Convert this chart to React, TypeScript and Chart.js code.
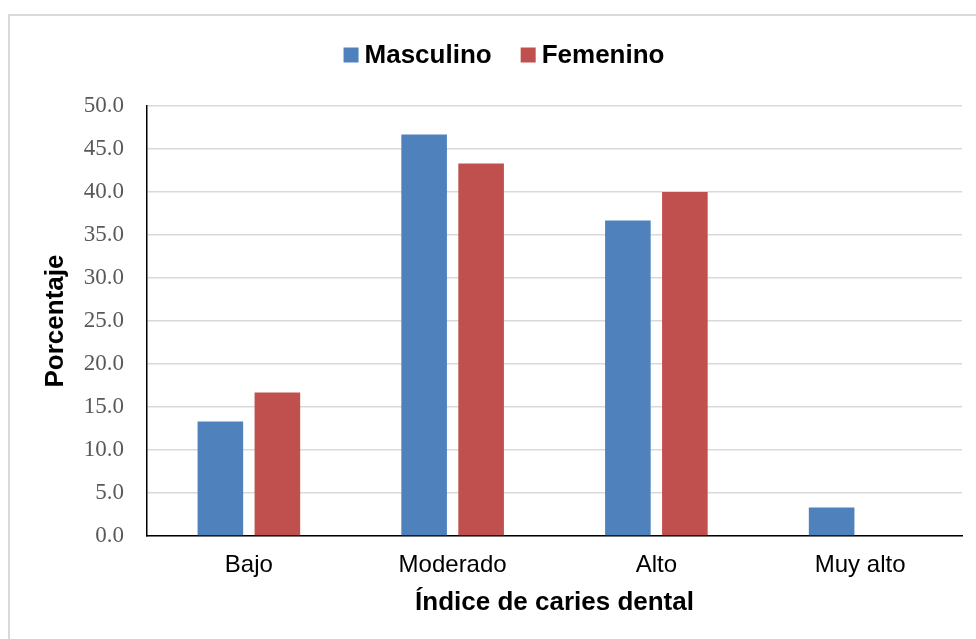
import React, { useEffect, useRef } from "react";
import { Chart, registerables } from "chart.js";

Chart.register(...registerables);

const categories = ["Bajo", "Moderado", "Alto", "Muy alto"];
const masculino = [13.3, 46.7, 36.7, 3.3];
const femenino = [16.7, 43.3, 40.0, 0];
const seriesLabels = ["Masculino", "Femenino"];
const seriesColors = ["#4F81BD", "#C0504D"];
const yTitle = "Porcentaje";
const xTitle = "Índice de caries dental";

const legendPlugin = {
  id: "customLegend",
  afterDraw(chart: any) {
    const ctx = chart.ctx;
    const font = "bold 26px 'Liberation Sans', Arial, sans-serif";
    ctx.save();
    ctx.font = font;
    const box = 15;
    const gap = 6;
    const itemGap = 29;
    const items = chart.data.datasets.map((d: any) => ({
      text: d.label,
      color: d.backgroundColor,
      w: ctx.measureText(d.label).width,
    }));
    const total = items.reduce((s: number, it: any) => s + box + gap + it.w, 0) + itemGap * (items.length - 1);
    const centerX = 504;
    const cy = 55;
    let x = centerX - total / 2;
    ctx.textBaseline = "middle";
    ctx.textAlign = "left";
    for (const it of items) {
      ctx.fillStyle = it.color;
      ctx.fillRect(x, cy - box / 2, box, box);
      x += box + gap;
      ctx.fillStyle = "#000000";
      ctx.fillText(it.text, x, cy + 1);
      x += it.w + itemGap;
    }
    ctx.restore();
  },
};

export default function App() {
  const canvasRef = useRef<HTMLCanvasElement | null>(null);

  useEffect(() => {
    if (!canvasRef.current) return;
    const chart = new Chart(canvasRef.current, {
      type: "bar",
      data: {
        labels: categories,
        datasets: [
          { label: seriesLabels[0], data: masculino, backgroundColor: seriesColors[0] },
          { label: seriesLabels[1], data: femenino, backgroundColor: seriesColors[1] },
        ],
      },
      options: {
        animation: false,
        responsive: false,
        maintainAspectRatio: false,
        layout: { padding: { top: 106, right: 14, bottom: 0, left: 0 } },
        categoryPercentage: 0.5595,
        barPercentage: 0.8,
        plugins: {
          legend: { display: false },
          tooltip: { enabled: false },
        },
        scales: {
          x: {
            grid: { display: false, drawTicks: false },
            border: { display: true, color: "#000000", width: 1.5 },
            ticks: {
              color: "#000000",
              padding: 15,
              font: { family: "'Liberation Sans', Arial, sans-serif", size: 24 },
            },
            title: {
              display: true,
              text: xTitle,
              color: "#000000",
              padding: { top: 0, bottom: 21 },
              font: { family: "'Liberation Sans', Arial, sans-serif", size: 26, weight: "bold" },
            },
            afterFit(scale: any) {
              scale.height = 103;
            },
          },
          y: {
            min: 0,
            max: 50,
            grid: { color: "#D9D9D9", lineWidth: 1.5, drawTicks: false },
            border: { display: true, color: "#000000", width: 1.5 },
            ticks: {
              stepSize: 5,
              color: "#595959",
              padding: 23,
              font: { family: "'Liberation Serif', 'Times New Roman', serif", size: 23 },
              callback: (v: any) => Number(v).toFixed(1),
            },
            title: {
              display: true,
              text: yTitle,
              color: "#000000",
              padding: { top: 40, bottom: 0 },
              font: { family: "'Liberation Sans', Arial, sans-serif", size: 26, weight: "bold" },
            },
            afterFit(scale: any) {
              scale.width = 147;
            },
          },
        },
      } as any,
      plugins: [legendPlugin],
    });
    return () => chart.destroy();
  }, []);

  return (
    <div style={{ position: "fixed", left: 0, top: 0, width: 976, height: 639, background: "#ffffff", overflow: "hidden" }}>
      <div
        style={{
          position: "absolute",
          left: 8,
          top: 14,
          width: 1000,
          height: 700,
          border: "2px solid #D9D9D9",
          boxSizing: "border-box",
        }}
      />
      <canvas ref={canvasRef} width={976} height={639} style={{ position: "absolute", left: 0, top: 0, width: 976, height: 639 }} />
    </div>
  );
}
